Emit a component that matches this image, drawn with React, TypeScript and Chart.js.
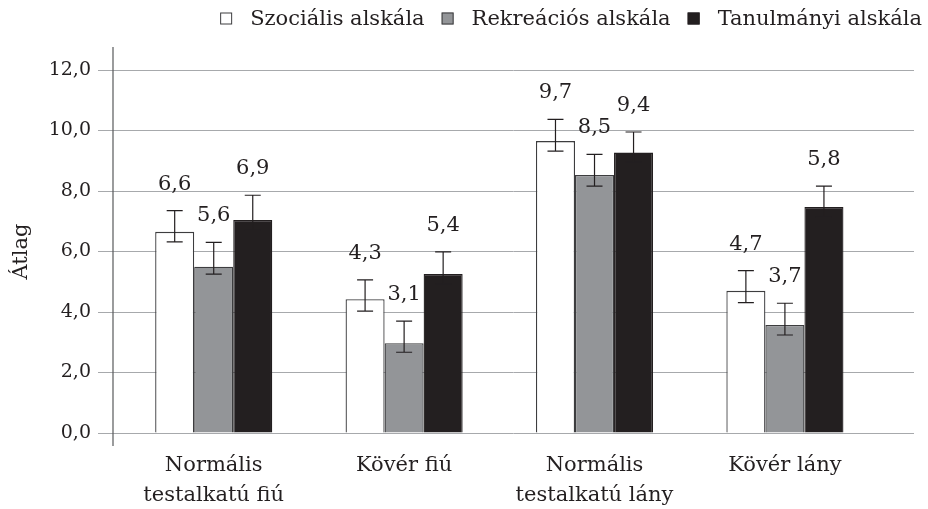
import React, { useEffect, useRef } from "react";
import { Chart, registerables } from "chart.js";

Chart.register(...registerables);

const categories: string[][] = [
  ["Normális", "testalkatú fiú"],
  ["Kövér fiú"],
  ["Normális", "testalkatú lány"],
  ["Kövér lány"],
];
const seriesNames = ["Szociális alskála", "Rekreációs alskála", "Tanulmányi alskála"];

const szocialis = [6.65, 4.42, 9.65, 4.7];
const szocialisHigh = [7.35, 5.06, 10.37, 5.37];
const szocialisLow = [6.32, 4.03, 9.32, 4.31];
const szocialisLabels = ["6,6", "4,3", "9,7", "4,7"];

const rekreacios = [5.5, 2.97, 8.53, 3.57];
const rekreaciosHigh = [6.3, 3.7, 9.21, 4.29];
const rekreaciosLow = [5.25, 2.67, 8.16, 3.24];
const rekreaciosLabels = ["5,6", "3,1", "8,5", "3,7"];

const tanulmanyi = [7.04, 5.26, 9.27, 7.47];
const tanulmanyiHigh = [7.86, 5.99, 9.95, 8.16];
const tanulmanyiLow = [6.7, 4.93, 8.95, 7.13];
const tanulmanyiLabels = ["6,9", "5,4", "9,4", "5,8"];

const yMin = 0;
const yMax = 12;
const yStep = 2;
const yTitle = "Átlag";

const FONT = "'DejaVu Serif', serif";
const TEXT = "#231f20";
const fills = ["#ffffff", "#939598", "#231f20"];
const borders = ["#3d3d3f", "#3d3d3f", "#231f20"];

const highs = [szocialisHigh, rekreaciosHigh, tanulmanyiHigh];
const lows = [szocialisLow, rekreaciosLow, tanulmanyiLow];
const valueLabels = [szocialisLabels, rekreaciosLabels, tanulmanyiLabels];

const extrasPlugin = {
  id: "extras",
  afterDatasetsDraw(chart: any) {
    const ctx = chart.ctx;
    const y = chart.scales.y;
    ctx.save();
    ctx.strokeStyle = TEXT;
    ctx.lineWidth = 1.2;
    ctx.fillStyle = TEXT;
    ctx.font = `21px ${FONT}`;
    ctx.textAlign = "center";
    ctx.textBaseline = "alphabetic";
    chart.data.datasets.forEach((_: any, di: number) => {
      const meta = chart.getDatasetMeta(di);
      meta.data.forEach((bar: any, i: number) => {
        const x = bar.x;
        const yh = y.getPixelForValue(highs[di][i]);
        const yl = y.getPixelForValue(lows[di][i]);
        ctx.beginPath();
        ctx.moveTo(x, yh);
        ctx.lineTo(x, yl);
        ctx.moveTo(x - 8, yh);
        ctx.lineTo(x + 8, yh);
        ctx.moveTo(x - 8, yl);
        ctx.lineTo(x + 8, yl);
        ctx.stroke();
        ctx.fillText(valueLabels[di][i], x, yh - 21);
      });
    });
    ctx.restore();
  },
  afterDraw(chart: any) {
    const ctx = chart.ctx;
    const a = chart.chartArea;
    ctx.save();
    ctx.strokeStyle = "#58595b";
    ctx.lineWidth = 1.2;
    ctx.beginPath();
    ctx.moveTo(a.left, a.top - 23);
    ctx.lineTo(a.left, a.bottom + 13);
    ctx.stroke();
    ctx.font = `21px ${FONT}`;
    ctx.textBaseline = "middle";
    ctx.textAlign = "left";
    const box = 12;
    const gapBoxText = 18;
    const gapItems = 17;
    const widths = seriesNames.map((n) => ctx.measureText(n).width);
    const total = widths.reduce((s, w) => s + box + gapBoxText + w, 0) + gapItems * (seriesNames.length - 1);
    let x = 922 - total;
    const cy = 18.5;
    seriesNames.forEach((n, i) => {
      ctx.fillStyle = fills[i];
      ctx.fillRect(x, cy - box / 2, box, box);
      ctx.strokeStyle = borders[i];
      ctx.lineWidth = 1;
      ctx.strokeRect(x + 0.5, cy - box / 2 + 0.5, box - 1, box - 1);
      ctx.fillStyle = TEXT;
      ctx.fillText(n, x + box + gapBoxText, cy + 1);
      x += box + gapBoxText + widths[i] + gapItems;
    });
    ctx.restore();
  },
};

export default function App() {
  const ref = useRef<HTMLCanvasElement | null>(null);
  useEffect(() => {
    if (!ref.current) return;
    const series = [szocialis, rekreacios, tanulmanyi];
    const chart = new Chart(ref.current, {
      type: "bar",
      data: {
        datasets: series.map((vals, di) => ({
          label: seriesNames[di],
          data: vals.map((v, i) => ({ x: i, y: v })),
          backgroundColor: fills[di],
          borderColor: borders[di],
          borderWidth: { top: 1.3, left: 1.3, right: 1.3, bottom: 0 },
          categoryPercentage: 0.615,
          barPercentage: 1,
        })),
      },
      options: {
        responsive: false,
        animation: false,
        events: [],
        layout: { padding: { top: 70, right: 14, left: 0, bottom: 0 } },
        plugins: {
          legend: { display: false },
          tooltip: { enabled: false },
        },
        scales: {
          x: {
            type: "linear",
            offset: false,
            min: -0.529,
            max: 3.678,
            grid: { display: false, offset: false },
            border: { display: false },
            afterBuildTicks: (scale: any) => {
              scale.ticks = categories.map((_, i) => ({ value: i }));
            },
            afterFit: (scale: any) => {
              scale.height = 76;
            },
            ticks: {
              autoSkip: false,
              maxRotation: 0,
              minRotation: 0,
              padding: 9,
              color: TEXT,
              font: { family: FONT, size: 21, lineHeight: 1.45 },
              callback: (v: any) => categories[Number(v)] ?? "",
            },
          },
          y: {
            min: yMin,
            max: yMax,
            afterFit: (scale: any) => {
              scale.width = 113;
            },
            grid: { color: "#a7a9ac", lineWidth: 1, tickLength: 15, drawTicks: true },
            border: { display: false },
            ticks: {
              stepSize: yStep,
              padding: 7,
              color: TEXT,
              font: { family: FONT, size: 19 },
              callback: (v: any) => Number(v).toFixed(1).replace(".", ","),
            },
            title: {
              display: true,
              text: yTitle,
              color: TEXT,
              font: { family: FONT, size: 21 },
              padding: { top: 9, bottom: 0 },
            },
          },
        },
      },
      plugins: [extrasPlugin],
    } as any);
    return () => chart.destroy();
  }, []);
  return (
    <div style={{ position: "absolute", left: 0, top: 0, width: 928, height: 509, background: "#fff" }}>
      <canvas ref={ref} width={928} height={509} />
    </div>
  );
}
